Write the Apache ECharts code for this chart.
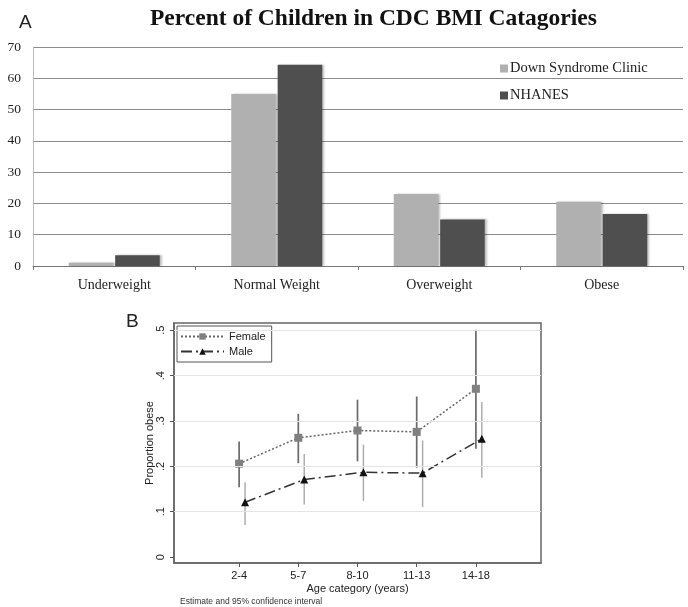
<!DOCTYPE html>
<html><head><meta charset="utf-8">
<script src="https://cdn.jsdelivr.net/npm/echarts@6/dist/echarts.min.js"></script>
<style>html,body{margin:0;padding:0;background:#fff}#c{width:688px;height:607px}</style>
</head><body><div id="c"></div>
<script>
// Panel A data
const bmiCats = ['Underweight', 'Normal Weight', 'Overweight', 'Obese'];
const dsClinic = [1.0, 55.0, 23.0, 20.5];
const nhanes = [3.4, 64.3, 14.9, 16.6];
const aTicks = [0, 10, 20, 30, 40, 50, 60, 70];

// Panel B data
const ageCats = ['2-4', '5-7', '8-10', '11-13', '14-18'];
const femaleEst = [0.206, 0.263, 0.279, 0.276, 0.371];
const femaleLo  = [0.154, 0.207, 0.211, 0.197, 0.239];
const femaleHi  = [0.255, 0.316, 0.347, 0.354, 0.501];
const maleEst = [0.121, 0.171, 0.187, 0.185, 0.261];
const maleLo  = [0.071, 0.116, 0.124, 0.110, 0.175];
const maleHi  = [0.165, 0.227, 0.248, 0.257, 0.342];
const bTicks = [0, 0.1, 0.2, 0.3, 0.4, 0.5];
const bTickLabels = ['0', '.1', '.2', '.3', '.4', '.5'];

const maleOffset = 0.1;
const femX = ageCats.map((c, i) => i + 1);
const maleX = ageCats.map((c, i) => i + 1 + maleOffset);

const serif = '"Liberation Serif", "DejaVu Serif", serif';
const sans = '"Liberation Sans", Arial, sans-serif';

function ciSeries(xs, lo, hi, color, width) {
  return {
    type: 'custom', xAxisIndex: 1, yAxisIndex: 1, silent: true, z: 2,
    data: xs.map((x, i) => [x, lo[i], hi[i]]),
    renderItem: function (params, api) {
      const a = api.coord([api.value(0), api.value(1)]);
      const b = api.coord([api.value(0), api.value(2)]);
      return { type: 'line', shape: { x1: a[0], y1: a[1], x2: b[0], y2: b[1] },
               style: { stroke: color, lineWidth: width } };
    }
  };
}

const chart = echarts.init(document.getElementById('c'), null, { renderer: 'canvas' });
chart.setOption({
  animation: false,
  backgroundColor: '#fff',
  title: [
    { text: 'Percent of Children in CDC BMI Catagories', left: 145, top: 2,
      textStyle: { fontFamily: serif, fontWeight: 'bold', fontSize: 23.5, color: '#111' } },
    { text: 'A', left: 14, top: 8, textStyle: { fontFamily: sans, fontWeight: 'normal', fontSize: 19, color: '#222' } },
    { text: 'B', left: 121, top: 307, textStyle: { fontFamily: sans, fontWeight: 'normal', fontSize: 19, color: '#222' } },
    { text: 'Estimate and 95% confidence interval', left: 175, top: 592,
      textStyle: { fontFamily: sans, fontWeight: 'normal', fontSize: 8.5, color: '#333' } }
  ],
  legend: [
    { data: ['Down Syndrome Clinic', 'NHANES'], orient: 'vertical', left: 495, top: 56,
      itemWidth: 8, itemHeight: 8, itemGap: 12, icon: 'rect',
      textStyle: { fontFamily: serif, fontSize: 14.5, color: '#222', padding: [0, 0, 0, -3] } },
    { data: ['Female', 'Male'], orient: 'vertical', left: 177, top: 326,
      itemWidth: 43, itemHeight: 8, itemGap: 4, padding: [5, 6, 5, 3],
      borderColor: '#555', borderWidth: 1,
      textStyle: { fontFamily: sans, fontSize: 11, color: '#222' } }
  ],
  grid: [
    { left: 33, right: 5, top: 47, bottom: 341 },
    { left: 174, right: 147, top: 323, bottom: 44, show: true, borderColor: '#666', borderWidth: 1.5 }
  ],
  xAxis: [
    { type: 'category', gridIndex: 0, data: bmiCats,
      axisLine: { lineStyle: { color: '#777' } },
      axisTick: { show: true, length: 4, lineStyle: { color: '#777' } },
      axisLabel: { fontFamily: serif, fontSize: 14, color: '#222', margin: 12 } },
    { type: 'value', gridIndex: 1, min: -0.1, max: 6.1,
      splitLine: { show: false },
      axisLine: { show: true, onZero: false, lineStyle: { color: '#666', width: 1.5 } },
      axisTick: { show: true, length: 4, customValues: femX, lineStyle: { color: '#555' } },
      axisLabel: { customValues: femX, fontFamily: sans, fontSize: 11, color: '#222', margin: 7,
        formatter: v => ageCats[Math.round(v) - 1] || '' },
      name: 'Age category (years)', nameLocation: 'middle', nameGap: 20, nameMoveOverlap: false,
      nameTextStyle: { fontFamily: sans, fontSize: 11, color: '#222' } }
  ],
  yAxis: [
    { type: 'value', gridIndex: 0, min: 0, max: 70, interval: 10,
      axisLine: { show: true, lineStyle: { color: '#bbb' } },
      axisTick: { show: false },
      splitLine: { lineStyle: { color: '#8c8c8c', width: 1 } },
      axisLabel: { fontFamily: serif, fontSize: 13.5, color: '#222', margin: 12 } },
    { type: 'value', gridIndex: 1, min: -0.013, max: 0.516,
      splitLine: { show: false },
      axisLine: { show: true, onZero: false, lineStyle: { color: '#666', width: 1.5 } },
      axisTick: { show: true, length: 4, customValues: bTicks, lineStyle: { color: '#555' } },
      axisLabel: { customValues: bTicks, rotate: 90, fontFamily: sans, fontSize: 11, color: '#222', margin: 8,
        formatter: v => { const i = bTicks.findIndex(t => Math.abs(t - v) < 1e-6); return i >= 0 ? bTickLabels[i] : ''; } },
      name: 'Proportion obese', nameLocation: 'middle', nameGap: 19, nameRotate: 90, nameMoveOverlap: false,
      nameTextStyle: { fontFamily: sans, fontSize: 11, color: '#222' } }
  ],
  series: [
    { name: 'Down Syndrome Clinic', type: 'bar', xAxisIndex: 0, yAxisIndex: 0, data: dsClinic,
      barCategoryGap: '44%', barGap: '4%',
      itemStyle: { color: '#b0b0b0', shadowColor: 'rgba(0,0,0,0.25)', shadowBlur: 2, shadowOffsetX: 2, shadowOffsetY: 0 } },
    { name: 'NHANES', type: 'bar', xAxisIndex: 0, yAxisIndex: 0, data: nhanes,
      barCategoryGap: '44%', barGap: '4%',
      itemStyle: { color: '#4f4f4f', shadowColor: 'rgba(0,0,0,0.25)', shadowBlur: 2, shadowOffsetX: 2, shadowOffsetY: 0 } },
    { type: 'line', xAxisIndex: 1, yAxisIndex: 1, data: [], silent: true,
      markLine: { silent: true, symbol: 'none', label: { show: false },
        lineStyle: { color: '#e4e4e4', width: 1, type: 'solid' },
        data: bTicks.slice(1).map(v => ({ yAxis: v })) } },
    ciSeries(femX, femaleLo, femaleHi, '#6a6a6a', 1.7),
    ciSeries(maleX, maleLo, maleHi, '#a8a8a8', 1.4),
    { name: 'Female', type: 'line', xAxisIndex: 1, yAxisIndex: 1, z: 3,
      data: femX.map((x, i) => [x, femaleEst[i]]),
      symbol: 'rect', symbolSize: 8,
      lineStyle: { color: '#666', width: 1.5, type: [2, 2] },
      itemStyle: { color: '#808080' } },
    { name: 'Male', type: 'line', xAxisIndex: 1, yAxisIndex: 1, z: 3,
      data: maleX.map((x, i) => [x, maleEst[i]]),
      symbol: 'triangle', symbolSize: 8,
      lineStyle: { color: '#333', width: 1.5, type: [11, 4, 2, 4] },
      itemStyle: { color: '#111' } }
  ]
});
</script></body></html>
